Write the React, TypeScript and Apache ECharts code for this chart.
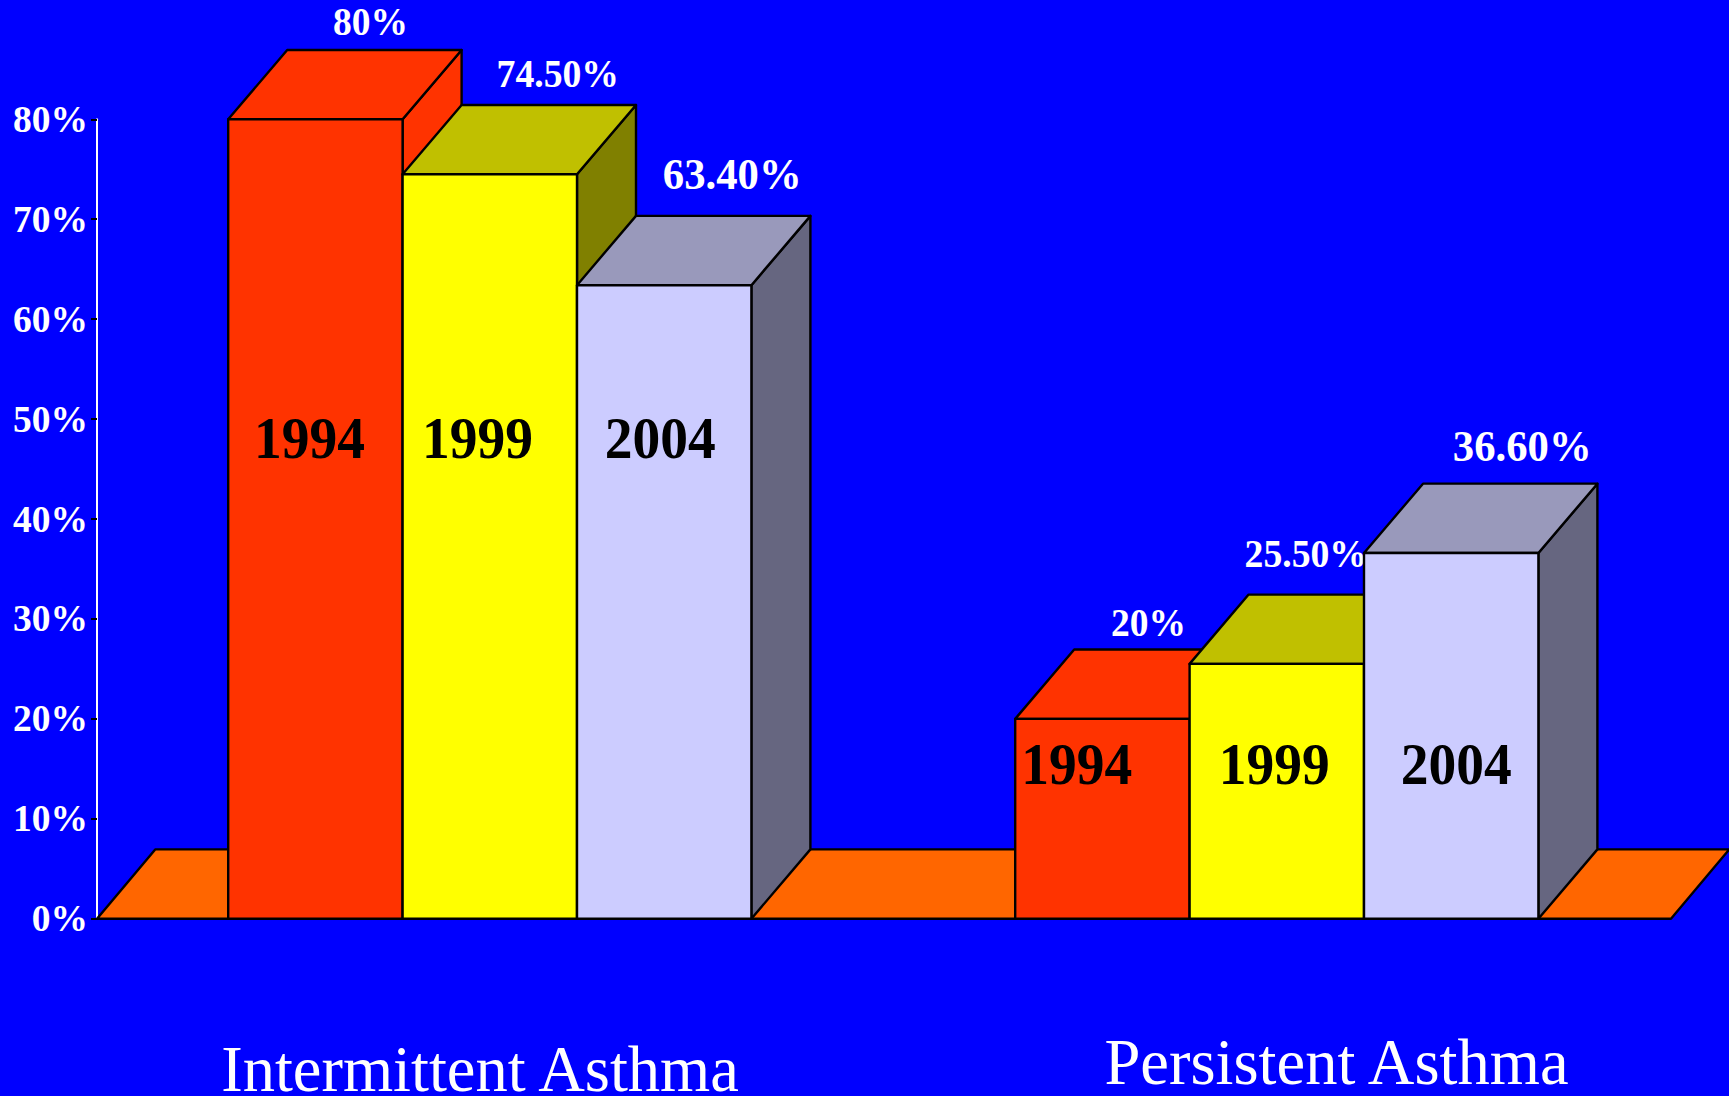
import React, { useEffect, useRef } from "react";
import * as echarts from "echarts";

// Asthma severity shares by survey year
const categories = ["Intermittent Asthma", "Persistent Asthma"];
const years = ["1994", "1999", "2004"];
const values1994 = [80, 20];
const values1999 = [74.5, 25.5];
const values2004 = [63.4, 36.6];
const valueLabels1994 = ["80%", "20%"];
const valueLabels1999 = ["74.50%", "25.50%"];
const valueLabels2004 = ["63.40%", "36.60%"];
const yTicks = [0, 10, 20, 30, 40, 50, 60, 70, 80];

const FONT = '"Liberation Serif", "Times New Roman", serif';
const FLOOR_DEPTH_X = 58.2;
const BOX_DEPTH_X = 59;
const DEPTH_Y = 69.3;
const BAR_SHARE = 0.2216;
const BAR_NUDGE = -0.7;
const EDGE = { stroke: "#000000", lineWidth: 2.4, lineJoin: "round" };

type BarStyle = {
  year: string;
  slot: number;
  values: number[];
  labels: string[];
  front: string;
  top: string;
  side: string;
  labelSize: number;
  // label centre relative to the top of the bar's front face, per category
  labelOffset: number[][];
  // year caption: x shift from bar centre and the height on the value scale
  yearOffset: number[][];
};

const barStyles: BarStyle[] = [
  {
    year: years[0], slot: -1, values: values1994, labels: valueLabels1994,
    front: "#FF3300", top: "#FF3300", side: "#FF3300", labelSize: 37.5,
    labelOffset: [[55, -98], [46, -96]],
    yearOffset: [[-6, 48.1], [-25.6, 15.5]],
  },
  {
    year: years[1], slot: 0, values: values1999, labels: valueLabels1999,
    front: "#FFFF00", top: "#C0C000", side: "#808000", labelSize: 37.7,
    labelOffset: [[68, -101], [29, -111]],
    yearOffset: [[-12.4, 48.1], [-2.6, 15.5]],
  },
  {
    year: years[2], slot: 1, values: values2004, labels: valueLabels2004,
    front: "#CCCCFF", top: "#9999BB", side: "#666680", labelSize: 42.7,
    labelOffset: [[68, -111], [71, -107]],
    yearOffset: [[-4, 48.1], [5, 15.5]],
  },
];

function renderBox(style: BarStyle) {
  return (_params: any, api: any) => {
    const cat = api.value(0);
    const val = api.value(1);
    const band = api.size([1, 0])[0];
    const w = band * BAR_SHARE;
    const [cx, yTop] = api.coord([cat, val]);
    const yBase = api.coord([cat, 0])[1];
    const xMid = cx + BAR_NUDGE + style.slot * w;
    const x0 = xMid - w / 2;
    const x1 = xMid + w / 2;
    const [lx, ly] = style.labelOffset[cat];
    const [yx, yv] = style.yearOffset[cat];
    return {
      type: "group",
      children: [
        {
          type: "polygon",
          shape: { points: [[x1, yTop], [x1 + BOX_DEPTH_X, yTop - DEPTH_Y], [x1 + BOX_DEPTH_X, yBase - DEPTH_Y], [x1, yBase]] },
          style: { fill: style.side, ...EDGE },
        },
        {
          type: "polygon",
          shape: { points: [[x0, yTop], [x0 + BOX_DEPTH_X, yTop - DEPTH_Y], [x1 + BOX_DEPTH_X, yTop - DEPTH_Y], [x1, yTop]] },
          style: { fill: style.top, ...EDGE },
        },
        {
          type: "rect",
          shape: { x: x0, y: yTop, width: w, height: yBase - yTop },
          style: { fill: style.front, ...EDGE },
        },
        {
          type: "text",
          x: xMid + lx,
          y: yTop + ly,
          scaleY: 1.06,
          style: {
            text: style.labels[cat],
            x: 0,
            y: 0,
            fill: "#FFFFFF",
            font: `bold ${style.labelSize}px ${FONT}`,
            textAlign: "center",
            textVerticalAlign: "middle",
          },
        },
        {
          type: "text",
          x: xMid + yx,
          y: api.coord([cat, yv])[1],
          scaleY: 1.06,
          style: {
            text: style.year,
            x: 0,
            y: 0,
            fill: "#000000",
            font: `bold 55.5px ${FONT}`,
            textAlign: "center",
            textVerticalAlign: "middle",
          },
        },
      ],
    };
  };
}

function renderFloor(params: any, api: any) {
  const sys = params.coordSys;
  const y = api.coord([0, 0])[1];
  const left = sys.x;
  const right = sys.x + sys.width;
  return {
    type: "polygon",
    shape: { points: [[left, y], [left + FLOOR_DEPTH_X, y - DEPTH_Y], [right + FLOOR_DEPTH_X, y - DEPTH_Y], [right, y]] },
    style: { fill: "#FF6600", ...EDGE },
  };
}

export default function App() {
  const ref = useRef<HTMLDivElement>(null);

  useEffect(() => {
    document.body.style.margin = "0";
    const chart = echarts.init(ref.current!, null, { renderer: "svg" });
    chart.setOption({
      animation: false,
      backgroundColor: "#0000FF",
      grid: { left: 97, right: 58, top: 119.3, bottom: 177.3, containLabel: false, outerBoundsMode: "none" },
      xAxis: {
        type: "category",
        data: categories,
        axisLine: { show: false },
        axisTick: { show: false },
        axisLabel: {
          margin: 124,
          interval: 0,
          verticalAlign: "top",
          formatter: (name: string, i: number) => `{c${i}|${name}}`,
          rich: {
            c0: { fontSize: 64.5, fontFamily: FONT, color: "#FFFFFF", lineHeight: 40, padding: [13, 21, 0, 0] },
            c1: { fontSize: 64.5, fontFamily: FONT, color: "#FFFFFF", lineHeight: 40, padding: [0, 0, 0, 118] },
          },
        },
      },
      yAxis: {
        type: "value",
        min: yTicks[0],
        max: yTicks[yTicks.length - 1],
        interval: 10,
        splitLine: { show: false },
        axisLine: { show: true, lineStyle: { color: "#FFFFFF", width: 2 } },
        axisTick: { show: true, length: 6, lineStyle: { color: "#000000", width: 2 } },
        axisLabel: {
          margin: 9,
          color: "#FFFFFF",
          fontFamily: FONT,
          fontWeight: "bold",
          fontSize: 37.5,
          formatter: "{value}%",
        },
      },
      series: [
        {
          type: "custom",
          name: "Floor",
          renderItem: renderFloor,
          data: [[0, 0]],
          encode: { x: 0, y: 1 },
          silent: true,
        },
        ...barStyles.map((style) => ({
          type: "custom",
          name: style.year,
          renderItem: renderBox(style),
          data: style.values.map((v, i) => [i, v]),
          encode: { x: 0, y: 1 },
          silent: true,
        })),
      ],
    });
    return () => chart.dispose();
  }, []);

  return <div ref={ref} style={{ width: 1729, height: 1096 }} />;
}
